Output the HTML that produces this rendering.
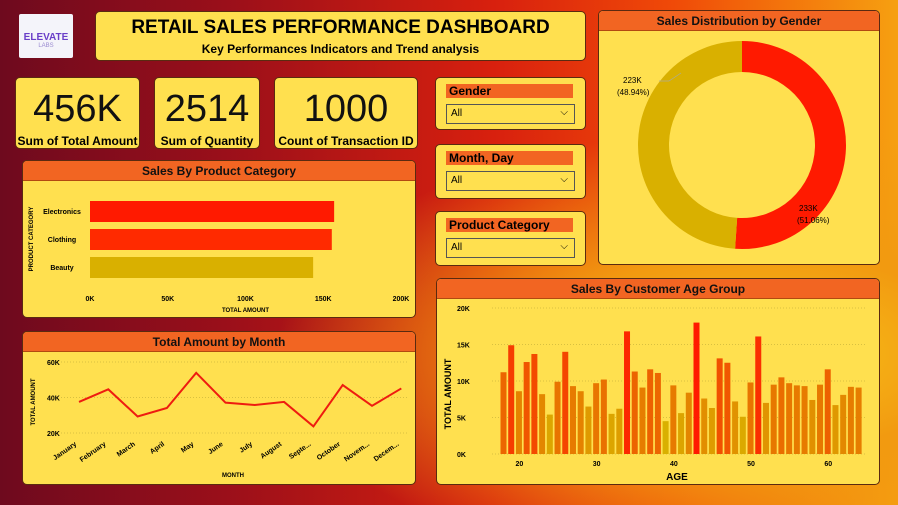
<!DOCTYPE html>
<html><head><meta charset="utf-8">
<style>
*{margin:0;padding:0;box-sizing:border-box}
body{width:898px;height:505px;overflow:hidden;font-family:"Liberation Sans",sans-serif;position:relative;
background:radial-gradient(ellipse at 85% 70%,#f7c21a 0%,#f29a10 20%,transparent 45%),linear-gradient(90deg,#6e0a1e 0%,#9a0f1a 25%,#d8200e 55%,#f04a08 75%,#f6a010 100%)}
.box{position:absolute;background:#ffe04f;border:1px solid #5a2a10;border-radius:5px;overflow:hidden}
.hdr{background:#f26522;height:20px;font-weight:bold;font-size:12px;text-align:center;line-height:20px;color:#111;border-bottom:1px solid #b24a10}
.kpi .v{font-size:38px;text-align:center;margin-top:10px;line-height:42px;color:#111}
.kpi .l{font-size:12px;font-weight:bold;text-align:center;margin-top:4px}
.sl .t{background:#f26522;margin:6px 12px 0 10px;height:14px;font-size:12px;font-weight:bold;line-height:14px;padding-left:3px}
.sl .d{margin:6px 10px 0 10px;height:20px;border:1px solid #555;font-size:10px;line-height:18px;padding-left:4px;position:relative}
.sl .d span{position:absolute;right:6px;top:-1px;font-size:10px}
svg text{font-family:"Liberation Sans",sans-serif}
</style></head><body>
<div class="box" style="left:19px;top:14px;width:54px;height:44px;background:#f4f4fa;border-radius:2px;border:none">
<div style="color:#6a3fc8;font-weight:bold;font-size:10px;text-align:center;margin-top:18px">ELEVATE</div>
<div style="color:#9a8ad0;font-size:6px;text-align:center">LABS</div></div>
<div class="box" style="left:95px;top:11px;width:491px;height:50px">
<div style="font-size:19px;font-weight:bold;text-align:center;margin-top:5px">RETAIL SALES PERFORMANCE DASHBOARD</div>
<div style="font-size:12px;font-weight:bold;text-align:center;margin-top:3px">Key Performances Indicators and Trend analysis</div></div>
<div class="box kpi" style="left:15px;top:77px;width:125px;height:72px"><div class="v">456K</div><div class="l">Sum of Total Amount</div></div>
<div class="box kpi" style="left:154px;top:77px;width:106px;height:72px"><div class="v">2514</div><div class="l">Sum of Quantity</div></div>
<div class="box kpi" style="left:274px;top:77px;width:144px;height:72px"><div class="v">1000</div><div class="l">Count of Transaction ID</div></div>

<div class="box sl" style="left:435px;top:77px;width:151px;height:53px"><div class="t">Gender</div><div class="d">All<span>⌵</span></div></div>
<div class="box sl" style="left:435px;top:144px;width:151px;height:55px"><div class="t">Month, Day</div><div class="d">All<span>⌵</span></div></div>
<div class="box sl" style="left:435px;top:211px;width:151px;height:55px"><div class="t">Product Category</div><div class="d">All<span>⌵</span></div></div>

<div class="box" style="left:22px;top:160px;width:394px;height:158px"><div class="hdr">Sales By Product Category</div><svg id="cat" width="394" height="137"></svg></div>
<div class="box" style="left:22px;top:331px;width:394px;height:154px"><div class="hdr">Total Amount by Month</div><svg id="mon" width="394" height="134"></svg></div>
<div class="box" style="left:598px;top:10px;width:282px;height:255px"><div class="hdr">Sales Distribution by Gender</div><svg id="gen" width="282" height="235"></svg></div>
<div class="box" style="left:436px;top:278px;width:444px;height:207px"><div class="hdr">Sales By Customer Age Group</div><svg id="age" width="444" height="187"></svg></div>

<script>
const catNames=["Electronics","Clothing","Beauty"];
const catValues=[157,155.5,143.5];
const catTicks=[0,50,100,150,200];
const months=["January","February","March","April","May","June","July","August","Septe...","October","Novem...","Decem..."];
const monthValues=[37.5,44.6,29.3,34.1,53.9,37.1,35.8,37.5,23.7,47,35.3,45.1];
const monthTicks=[20,40,60];
const genderLabels=["233K","223K"];
const genderPct=[51.06,48.94];
const ages=[18,19,20,21,22,23,24,25,26,27,28,29,30,31,32,33,34,35,36,37,38,39,40,41,42,43,44,45,46,47,48,49,50,51,52,53,54,55,56,57,58,59,60,61,62,63,64];
const ageValues=[11.2,14.9,8.6,12.6,13.7,8.2,5.4,9.9,14.0,9.3,8.6,6.5,9.7,10.2,5.5,6.2,16.8,11.3,9.1,11.6,11.1,4.5,9.4,5.6,8.4,18.0,7.6,6.3,13.1,12.5,7.2,5.1,9.8,16.1,7.0,9.5,10.5,9.7,9.4,9.3,7.4,9.5,11.6,6.7,8.1,9.2,9.1];
const ageTicks=[0,5,10,15,20];
const ageXTicks=[20,30,40,50,60];
const NS="http://www.w3.org/2000/svg";
function mk(svg,tag,at,txt){const e=document.createElementNS(NS,tag);for(const k in at)e.setAttribute(k,at[k]);if(txt!==undefined)e.textContent=txt;svg.appendChild(e);return e;}
// category
(function(){const s=document.getElementById('cat');const x=v=>67+v*1.555;const y0=20,bh=21,gap=28;
catTicks.forEach(t=>{const e=mk(s,'text',{x:x(t),y:120,'font-size':7,'font-weight':'bold','text-anchor':'middle'},t+'K');});
mk(s,'text',{x:x(100),y:131,'font-size':6,'font-weight':'bold','text-anchor':'middle'},'TOTAL AMOUNT');
mk(s,'text',{x:0,y:0,'font-size':6,'font-weight':'bold','text-anchor':'middle',transform:'translate(10,58) rotate(-90)'},'PRODUCT CATEGORY');
const cols=["#ff1a00","#ff2a00","#d9b000"];
catValues.forEach((v,i)=>{const y=y0+i*gap;const r=mk(s,'rect',{x:x(0),y:y,width:x(v)-x(0),height:bh,fill:cols[i]});
mk(s,'text',{x:x(0)-28,y:y+13,'font-size':7,'font-weight':'bold','text-anchor':'middle'},catNames[i]);});})();
// month
(function(){const s=document.getElementById('mon');const y=v=>10+(60-v)*1.775;const x=i=>56+i*29.3;
monthTicks.forEach(t=>{mk(s,'line',{x1:38,x2:385,y1:y(t),y2:y(t),stroke:'#d8c040','stroke-dasharray':'1,2'});const e=mk(s,'text',{x:24,y:y(t)+3,'font-size':7,'font-weight':'bold'},t+'K');});
mk(s,'text',{x:0,y:0,'font-size':6,'font-weight':'bold','text-anchor':'middle',transform:'translate(12,50) rotate(-90)'},'TOTAL AMOUNT');
mk(s,'text',{x:210,y:125,'font-size':6,'font-weight':'bold','text-anchor':'middle'},'MONTH');
const p=mk(s,'polyline',{points:monthValues.map((v,i)=>x(i)+','+y(v)).join(' '),fill:'none',stroke:'#ee1c10','stroke-width':2});
months.forEach((m,i)=>mk(s,'text',{x:0,y:0,'font-size':7,'font-weight':'bold','text-anchor':'end',transform:`translate(${x(i)-2},${y(20)+12}) rotate(-35)`},m));})();
// gender donut
(function(){const s=document.getElementById('gen');const cx=143,cy=114,R=104,r=73;let a=-Math.PI/2;const cols=["#ff1a00","#d9b000"];
genderPct.forEach((p,i)=>{const b=a+p/100*2*Math.PI;const lg=p>50?1:0;
const d=`M${cx+R*Math.cos(a)},${cy+R*Math.sin(a)} A${R},${R} 0 ${lg} 1 ${cx+R*Math.cos(b)},${cy+R*Math.sin(b)} L${cx+r*Math.cos(b)},${cy+r*Math.sin(b)} A${r},${r} 0 ${lg} 0 ${cx+r*Math.cos(a)},${cy+r*Math.sin(a)}Z`;
const e=mk(s,'path',{d:d,fill:cols[i]});a=b;});
mk(s,'text',{x:200,y:180,'font-size':8},genderLabels[0]);mk(s,'text',{x:198,y:192,'font-size':8},'('+genderPct[0].toFixed(2)+'%)');
mk(s,'text',{x:24,y:52,'font-size':8},genderLabels[1]);mk(s,'text',{x:18,y:64,'font-size':8},'('+genderPct[1].toFixed(2)+'%)');
mk(s,'polyline',{points:'60,50 70,50 82,42',fill:'none',stroke:'#aa9',"stroke-width":0.7});})();
// age
(function(){const s=document.getElementById('age');const y=v=>155-v*7.3;const x=a=>(a-18)*7.72+64;
ageTicks.forEach(t=>{mk(s,'line',{x1:55,x2:430,y1:y(t),y2:y(t),stroke:'#d8c040','stroke-dasharray':'1,2'});const e=mk(s,'text',{x:20,y:y(t)+3,'font-size':7,'font-weight':'bold'},t+'K');});
ageXTicks.forEach(t=>mk(s,'text',{x:x(t)+3,y:167,'font-size':7,'font-weight':'bold','text-anchor':'middle'},t));
mk(s,'text',{x:240,y:181,'font-size':10,'font-weight':'bold','text-anchor':'middle'},'AGE');
mk(s,'text',{x:0,y:0,'font-size':9,'font-weight':'bold','text-anchor':'middle',transform:'translate(14,95) rotate(-90)'},'TOTAL AMOUNT');
function col(v){const t=Math.max(0,Math.min(1,(v-4.5)/13.5));const r=Math.round(217+(255-217)*t),g=Math.round(176-(176-26)*t);return `rgb(${r},${g},0)`;}
ageValues.forEach((v,i)=>{const b=mk(s,'rect',{x:x(ages[i])-0.5,y:y(v),width:6,height:y(0)-y(v),fill:col(v)});});})();
</script>
</body></html>
